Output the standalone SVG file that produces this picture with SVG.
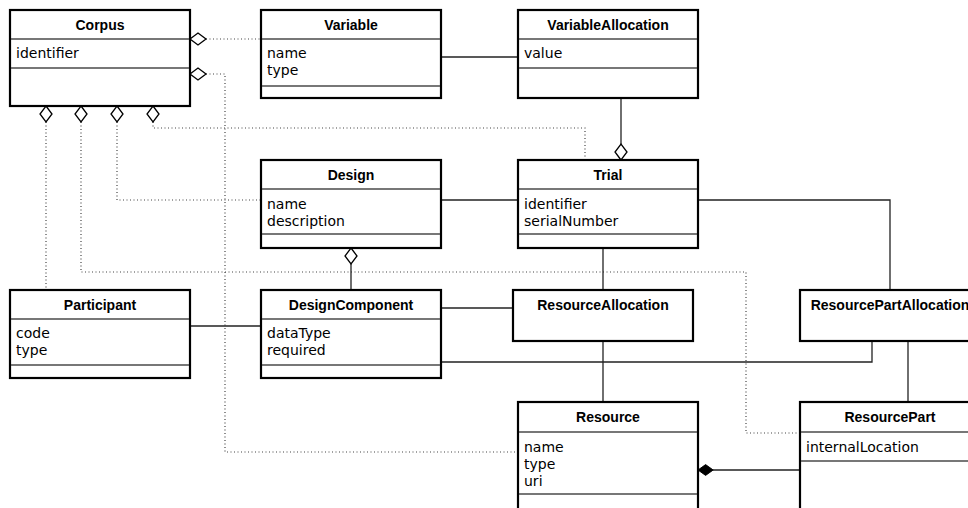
<svg xmlns="http://www.w3.org/2000/svg" xmlns:xlink="http://www.w3.org/1999/xlink" width="968" height="508" viewBox="0 0 968 508">
  <style>
    .box { fill: #fff; stroke: #000; stroke-width: 2.2; }
    .sep { stroke: #4a4a4a; stroke-width: 1.6; }
    .title { font-family: "Liberation Sans", Arial, sans-serif; font-weight: bold; font-size: 14px; text-anchor: middle; fill: #000; }
    .attr { font-family: "DejaVu Sans", sans-serif; font-size: 14px; fill: #000; }
    .assoc { fill: none; stroke: #222; stroke-width: 1.3; }
    .dep { fill: none; stroke: #444; stroke-width: 1.2; stroke-dasharray: 1 2.5; }
    .agg { fill: #fff; stroke: #000; stroke-width: 1.3; }
    .comp { fill: #000; stroke: #000; stroke-width: 1; }
  </style>
  <defs>
    <!-- aggregation diamond, tip at origin, pointing toward -x -->
    <path id="dia" d="M0,0 L8,-6 L16,0 L8,6 Z"/>
  </defs>

  <rect width="968" height="508" fill="#fff"/>

  <!-- connectors -->
  <g id="connectors">
    <!-- Corpus aggregations (dotted) -->
    <polyline class="dep" points="206,39 261,39"/>
    <polyline class="dep" points="206,74 225,74 225,452 518,452"/>
    <polyline class="dep" points="46,122 46,290"/>
    <polyline class="dep" points="81,122 81,272 746,272 746,433 800,433"/>
    <polyline class="dep" points="117,122 117,200 261,200"/>
    <polyline class="dep" points="153,122 153,128 585,128 585,160"/>

    <!-- associations -->
    <line class="assoc" x1="441" y1="57" x2="518" y2="57"/>
    <line class="assoc" x1="621" y1="98" x2="621" y2="144"/>
    <line class="assoc" x1="441" y1="200" x2="518" y2="200"/>
    <line class="assoc" x1="351" y1="264" x2="351" y2="290"/>
    <line class="assoc" x1="603" y1="248" x2="603" y2="290"/>
    <polyline class="assoc" points="698,200 890,200 890,290"/>
    <line class="assoc" x1="190" y1="326" x2="261" y2="326"/>
    <line class="assoc" x1="441" y1="308" x2="513" y2="308"/>
    <polyline class="assoc" points="441,362 872,362 872,341"/>
    <line class="assoc" x1="603" y1="341" x2="603" y2="402"/>
    <line class="assoc" x1="908" y1="341" x2="908" y2="402"/>
    <line class="assoc" x1="713" y1="470" x2="800" y2="470"/>

    <!-- diamonds -->
    <use xlink:href="#dia" class="agg" transform="translate(190,39)"/>
    <use xlink:href="#dia" class="agg" transform="translate(190,74)"/>
    <use xlink:href="#dia" class="agg" transform="translate(46,106) rotate(90)"/>
    <use xlink:href="#dia" class="agg" transform="translate(81,106) rotate(90)"/>
    <use xlink:href="#dia" class="agg" transform="translate(117,106) rotate(90)"/>
    <use xlink:href="#dia" class="agg" transform="translate(153,106) rotate(90)"/>
    <use xlink:href="#dia" class="agg" transform="translate(621,160) rotate(-90)"/>
    <use xlink:href="#dia" class="agg" transform="translate(351,248) rotate(90)"/>
    <use xlink:href="#dia" class="comp" transform="translate(698,470) scale(0.95,0.9)"/>
  </g>

  <g id="Corpus">
    <rect class="box" x="10" y="10" width="180" height="96"/>
    <line class="sep" x1="11" y1="39" x2="189" y2="39"/>
    <line class="sep" x1="11" y1="68" x2="189" y2="68"/>
    <text class="title" x="100" y="30">Corpus</text>
    <text class="attr" x="16" y="58">identifier</text>
  </g>

  <g id="Variable">
    <rect class="box" x="261" y="10" width="180" height="88"/>
    <line class="sep" x1="262" y1="39" x2="440" y2="39"/>
    <line class="sep" x1="262" y1="86" x2="440" y2="86"/>
    <text class="title" x="351" y="30">Variable</text>
    <text class="attr" x="267" y="58">name</text>
    <text class="attr" x="267" y="75">type</text>
  </g>

  <g id="VariableAllocation">
    <rect class="box" x="518" y="10" width="180" height="88"/>
    <line class="sep" x1="519" y1="39" x2="697" y2="39"/>
    <line class="sep" x1="519" y1="68" x2="697" y2="68"/>
    <text class="title" x="608" y="30">VariableAllocation</text>
    <text class="attr" x="524" y="58">value</text>
  </g>

  <g id="Design">
    <rect class="box" x="261" y="160" width="180" height="88"/>
    <line class="sep" x1="262" y1="189" x2="440" y2="189"/>
    <line class="sep" x1="262" y1="234" x2="440" y2="234"/>
    <text class="title" x="351" y="180">Design</text>
    <text class="attr" x="267" y="209">name</text>
    <text class="attr" x="267" y="226">description</text>
  </g>

  <g id="Trial">
    <rect class="box" x="518" y="160" width="180" height="88"/>
    <line class="sep" x1="519" y1="189" x2="697" y2="189"/>
    <line class="sep" x1="519" y1="234" x2="697" y2="234"/>
    <text class="title" x="608" y="180">Trial</text>
    <text class="attr" x="524" y="209">identifier</text>
    <text class="attr" x="524" y="226">serialNumber</text>
  </g>

  <g id="Participant">
    <rect class="box" x="10" y="290" width="180" height="88"/>
    <line class="sep" x1="11" y1="319" x2="189" y2="319"/>
    <line class="sep" x1="11" y1="365" x2="189" y2="365"/>
    <text class="title" x="100" y="310">Participant</text>
    <text class="attr" x="16" y="338">code</text>
    <text class="attr" x="16" y="355">type</text>
  </g>

  <g id="DesignComponent">
    <rect class="box" x="261" y="290" width="180" height="88"/>
    <line class="sep" x1="262" y1="319" x2="440" y2="319"/>
    <line class="sep" x1="262" y1="365" x2="440" y2="365"/>
    <text class="title" x="351" y="310">DesignComponent</text>
    <text class="attr" x="267" y="338">dataType</text>
    <text class="attr" x="267" y="355">required</text>
  </g>

  <g id="ResourceAllocation">
    <rect class="box" x="513" y="290" width="180" height="51"/>
    <text class="title" x="603" y="310">ResourceAllocation</text>
  </g>

  <g id="ResourcePartAllocation">
    <rect class="box" x="800" y="290" width="180" height="51"/>
    <text class="title" x="890" y="310">ResourcePartAllocation</text>
  </g>

  <g id="Resource">
    <rect class="box" x="518" y="402" width="180" height="120"/>
    <line class="sep" x1="519" y1="432" x2="697" y2="432"/>
    <line class="sep" x1="519" y1="494" x2="697" y2="494"/>
    <text class="title" x="608" y="422">Resource</text>
    <text class="attr" x="524" y="452">name</text>
    <text class="attr" x="524" y="469">type</text>
    <text class="attr" x="524" y="486">uri</text>
  </g>

  <g id="ResourcePart">
    <rect class="box" x="800" y="402" width="180" height="120"/>
    <line class="sep" x1="801" y1="432" x2="979" y2="432"/>
    <line class="sep" x1="801" y1="461" x2="979" y2="461"/>
    <text class="title" x="890" y="422">ResourcePart</text>
    <text class="attr" x="806" y="452">internalLocation</text>
  </g>
</svg>
